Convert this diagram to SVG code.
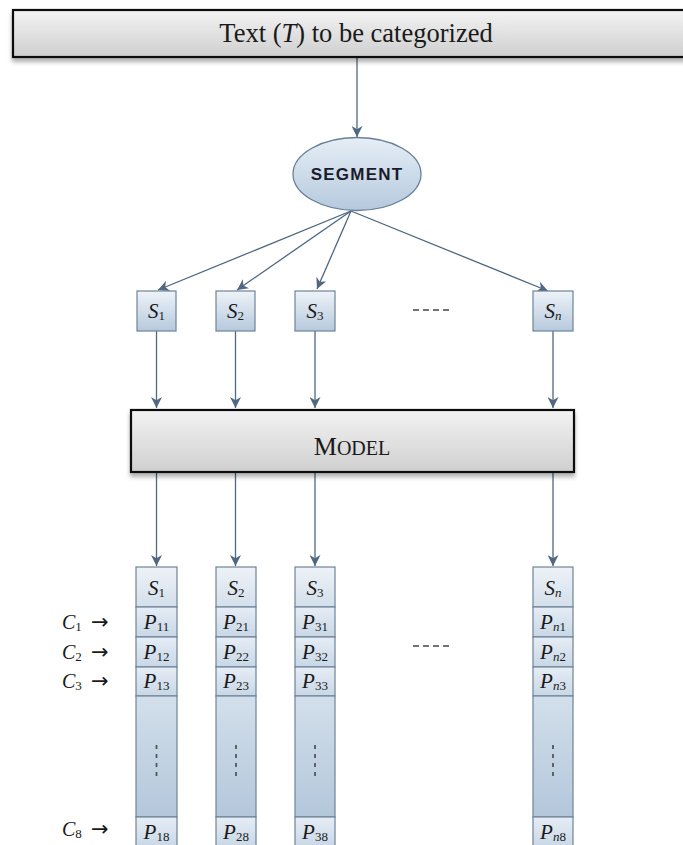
<svg xmlns="http://www.w3.org/2000/svg" width="683" height="845" viewBox="0 0 683 845">
  <style>
    .serif { font-family: "Liberation Serif", "DejaVu Serif", serif; fill: #1a1a1a; }
    .it { font-style: italic; }
    .sub { font-size: 13px; font-style: normal; }
    .subi { font-size: 13px; font-style: italic; }
    .arr { font-family: "DejaVu Sans", sans-serif; font-size: 21px; font-style: normal; }
    .conn { stroke: #4f6780; stroke-width: 1.3; fill: none; marker-end: url(#arrow); }
    .cell { fill: url(#cellGrad); stroke: #6f8498; stroke-width: 1.2; }
    .head { fill: url(#headGrad); stroke: #6f8498; stroke-width: 1.2; }
    .tall { fill: url(#tallGrad); stroke: #6f8498; stroke-width: 1.2; }
    .sbox { fill: url(#sboxGrad); stroke: #6f8498; stroke-width: 1.2; }
    .grey { fill: url(#greyGrad); stroke: #111; stroke-width: 2.2; }
    .dots { stroke: #555; stroke-width: 1.8; stroke-dasharray: 4 5; }
    .dash { stroke: #444; stroke-width: 1.5; stroke-dasharray: 6 4; }
  </style>
  <defs>
    <marker id="arrow" viewBox="0 0 10 10" refX="10" refY="5" markerWidth="12" markerHeight="11" markerUnits="userSpaceOnUse" orient="auto">
      <path d="M0,0 L10,5 L0,10 L3,5 Z" fill="#4f6780"/>
    </marker>
    <linearGradient id="greyGrad" x1="0" y1="0" x2="0" y2="1">
      <stop offset="0" stop-color="#f3f3f3"/>
      <stop offset="1" stop-color="#cfcfcf"/>
    </linearGradient>
    <linearGradient id="ellGrad" x1="0" y1="0" x2="0" y2="1">
      <stop offset="0" stop-color="#e6eef6"/>
      <stop offset="1" stop-color="#b5c9de"/>
    </linearGradient>
    <linearGradient id="sboxGrad" x1="0" y1="0" x2="0" y2="1">
      <stop offset="0" stop-color="#eef3f8"/>
      <stop offset="1" stop-color="#b6c9dd"/>
    </linearGradient>
    <linearGradient id="headGrad" x1="0" y1="0" x2="0" y2="1">
      <stop offset="0" stop-color="#eef2f7"/>
      <stop offset="1" stop-color="#d3dfeb"/>
    </linearGradient>
    <linearGradient id="cellGrad" x1="0" y1="0" x2="0" y2="1">
      <stop offset="0" stop-color="#e6edf5"/>
      <stop offset="1" stop-color="#c8d7e6"/>
    </linearGradient>
    <linearGradient id="tallGrad" x1="0" y1="0" x2="0" y2="1">
      <stop offset="0" stop-color="#d3dfeb"/>
      <stop offset="1" stop-color="#b3c7db"/>
    </linearGradient>
    <filter id="shadow" x="-5%" y="-20%" width="110%" height="150%">
      <feDropShadow dx="0" dy="4" stdDeviation="2" flood-color="#000" flood-opacity="0.3"/>
    </filter>
  </defs>

  <!-- connectors -->
  <g id="connectors">
    <line class="conn" x1="357" y1="58" x2="357" y2="137"/>
    <line class="conn" x1="351" y1="211" x2="158" y2="290"/>
    <line class="conn" x1="351" y1="211" x2="237" y2="290"/>
    <line class="conn" x1="351" y1="211" x2="317" y2="289"/>
    <line class="conn" x1="351" y1="211" x2="548" y2="291"/>
    <line class="conn" x1="156.5" y1="331" x2="156.5" y2="408"/>
    <line class="conn" x1="235.5" y1="331" x2="235.5" y2="408"/>
    <line class="conn" x1="315" y1="331" x2="315" y2="408"/>
    <line class="conn" x1="553" y1="331" x2="553" y2="408"/>
    <line class="conn" x1="156.5" y1="473" x2="156.5" y2="566"/>
    <line class="conn" x1="235.5" y1="473" x2="235.5" y2="566"/>
    <line class="conn" x1="315" y1="473" x2="315" y2="566"/>
    <line class="conn" x1="553" y1="473" x2="553" y2="566"/>
  </g>

  <!-- input text box -->
  <g id="input-text">
    <rect class="grey" x="13" y="10" width="680" height="47" filter="url(#shadow)"/>
    <text class="serif" x="356" y="42" font-size="26.5" text-anchor="middle">Text (<tspan class="it">T</tspan>) to be categorized</text>
  </g>

  <!-- segmentation step -->
  <g id="segment">
    <ellipse cx="357" cy="174" rx="64" ry="36.5" fill="url(#ellGrad)" stroke="#6a7f96" stroke-width="1.3"/>
    <text x="357" y="180" font-family="Liberation Sans, Arial, sans-serif" font-weight="bold" font-size="17" letter-spacing="1.2" text-anchor="middle" fill="#1b1b2b">SEGMENT</text>
  </g>

  <!-- segments -->
  <g id="seg-1">
    <rect class="sbox" x="137" y="291" width="39" height="40"/>
    <text class="serif" x="156.5" y="318" font-size="21" text-anchor="middle"><tspan class="it">S</tspan><tspan class="sub" dy="2">1</tspan></text>
  </g>
  <g id="seg-2">
    <rect class="sbox" x="216" y="291" width="39" height="40"/>
    <text class="serif" x="235.5" y="318" font-size="21" text-anchor="middle"><tspan class="it">S</tspan><tspan class="sub" dy="2">2</tspan></text>
  </g>
  <g id="seg-3">
    <rect class="sbox" x="295" y="291" width="40" height="40"/>
    <text class="serif" x="315" y="318" font-size="21" text-anchor="middle"><tspan class="it">S</tspan><tspan class="sub" dy="2">3</tspan></text>
  </g>
  <g id="seg-ellipsis">
    <line class="dash" x1="413" y1="310" x2="451" y2="310"/>
  </g>
  <g id="seg-n">
    <rect class="sbox" x="533" y="291" width="40" height="40"/>
    <text class="serif" x="553" y="318" font-size="21" text-anchor="middle"><tspan class="it">S</tspan><tspan class="subi" dy="2">n</tspan></text>
  </g>

  <!-- model -->
  <g id="model">
    <rect class="grey" x="131" y="410" width="443" height="62" filter="url(#shadow)"/>
    <text class="serif" x="352" y="455" text-anchor="middle" font-size="20"><tspan font-size="26">M</tspan>ODEL</text>
  </g>

  <!-- category labels -->
  <g id="class-labels" class="serif" font-size="20">
    <text x="62" y="629"><tspan class="it">C</tspan><tspan class="sub" dy="2">1</tspan><tspan class="arr" x="91" dy="-2">→</tspan></text>
    <text x="62" y="659"><tspan class="it">C</tspan><tspan class="sub" dy="2">2</tspan><tspan class="arr" x="91" dy="-2">→</tspan></text>
    <text x="62" y="688"><tspan class="it">C</tspan><tspan class="sub" dy="2">3</tspan><tspan class="arr" x="91" dy="-2">→</tspan></text>
    <text x="62" y="836"><tspan class="it">C</tspan><tspan class="sub" dy="2">8</tspan><tspan class="arr" x="91" dy="-2">→</tspan></text>
  </g>

  <!-- probability columns -->
  <g id="col-1">
    <rect class="head" x="136" y="567" width="41" height="40"/>
    <rect class="cell" x="136" y="607" width="41" height="30"/>
    <rect class="cell" x="136" y="637" width="41" height="30"/>
    <rect class="cell" x="136" y="667" width="41" height="29"/>
    <rect class="tall" x="136" y="696" width="41" height="121"/>
    <rect class="cell" x="136" y="817" width="41" height="30"/>
    <line class="dots" x1="156.5" y1="745" x2="156.5" y2="781"/>
    <g class="serif" font-size="21" text-anchor="middle">
      <text x="156.5" y="595"><tspan class="it">S</tspan><tspan class="sub" dy="2">1</tspan></text>
      <text x="156.5" y="629"><tspan class="it">P</tspan><tspan class="sub" dy="2">11</tspan></text>
      <text x="156.5" y="659"><tspan class="it">P</tspan><tspan class="sub" dy="2">12</tspan></text>
      <text x="156.5" y="688"><tspan class="it">P</tspan><tspan class="sub" dy="2">13</tspan></text>
      <text x="156.5" y="839"><tspan class="it">P</tspan><tspan class="sub" dy="2">18</tspan></text>
    </g>
  </g>
  <g id="col-2">
    <rect class="head" x="216" y="567" width="40" height="40"/>
    <rect class="cell" x="216" y="607" width="40" height="30"/>
    <rect class="cell" x="216" y="637" width="40" height="30"/>
    <rect class="cell" x="216" y="667" width="40" height="29"/>
    <rect class="tall" x="216" y="696" width="40" height="121"/>
    <rect class="cell" x="216" y="817" width="40" height="30"/>
    <line class="dots" x1="236" y1="745" x2="236" y2="781"/>
    <g class="serif" font-size="21" text-anchor="middle">
      <text x="236" y="595"><tspan class="it">S</tspan><tspan class="sub" dy="2">2</tspan></text>
      <text x="236" y="629"><tspan class="it">P</tspan><tspan class="sub" dy="2">21</tspan></text>
      <text x="236" y="659"><tspan class="it">P</tspan><tspan class="sub" dy="2">22</tspan></text>
      <text x="236" y="688"><tspan class="it">P</tspan><tspan class="sub" dy="2">23</tspan></text>
      <text x="236" y="839"><tspan class="it">P</tspan><tspan class="sub" dy="2">28</tspan></text>
    </g>
  </g>
  <g id="col-3">
    <rect class="head" x="295" y="567" width="40" height="40"/>
    <rect class="cell" x="295" y="607" width="40" height="30"/>
    <rect class="cell" x="295" y="637" width="40" height="30"/>
    <rect class="cell" x="295" y="667" width="40" height="29"/>
    <rect class="tall" x="295" y="696" width="40" height="121"/>
    <rect class="cell" x="295" y="817" width="40" height="30"/>
    <line class="dots" x1="315" y1="745" x2="315" y2="781"/>
    <g class="serif" font-size="21" text-anchor="middle">
      <text x="315" y="595"><tspan class="it">S</tspan><tspan class="sub" dy="2">3</tspan></text>
      <text x="315" y="629"><tspan class="it">P</tspan><tspan class="sub" dy="2">31</tspan></text>
      <text x="315" y="659"><tspan class="it">P</tspan><tspan class="sub" dy="2">32</tspan></text>
      <text x="315" y="688"><tspan class="it">P</tspan><tspan class="sub" dy="2">33</tspan></text>
      <text x="315" y="839"><tspan class="it">P</tspan><tspan class="sub" dy="2">38</tspan></text>
    </g>
  </g>
  <g id="col-ellipsis">
    <line class="dash" x1="413" y1="646" x2="451" y2="646"/>
  </g>
  <g id="col-n">
    <rect class="head" x="533" y="567" width="40" height="40"/>
    <rect class="cell" x="533" y="607" width="40" height="30"/>
    <rect class="cell" x="533" y="637" width="40" height="30"/>
    <rect class="cell" x="533" y="667" width="40" height="29"/>
    <rect class="tall" x="533" y="696" width="40" height="121"/>
    <rect class="cell" x="533" y="817" width="40" height="30"/>
    <line class="dots" x1="553" y1="745" x2="553" y2="781"/>
    <g class="serif" font-size="21" text-anchor="middle">
      <text x="553" y="595"><tspan class="it">S</tspan><tspan class="subi" dy="2">n</tspan></text>
      <text x="553" y="629"><tspan class="it">P</tspan><tspan class="subi" dy="2">n</tspan><tspan class="sub">1</tspan></text>
      <text x="553" y="659"><tspan class="it">P</tspan><tspan class="subi" dy="2">n</tspan><tspan class="sub">2</tspan></text>
      <text x="553" y="688"><tspan class="it">P</tspan><tspan class="subi" dy="2">n</tspan><tspan class="sub">3</tspan></text>
      <text x="553" y="839"><tspan class="it">P</tspan><tspan class="subi" dy="2">n</tspan><tspan class="sub">8</tspan></text>
    </g>
  </g>
</svg>
